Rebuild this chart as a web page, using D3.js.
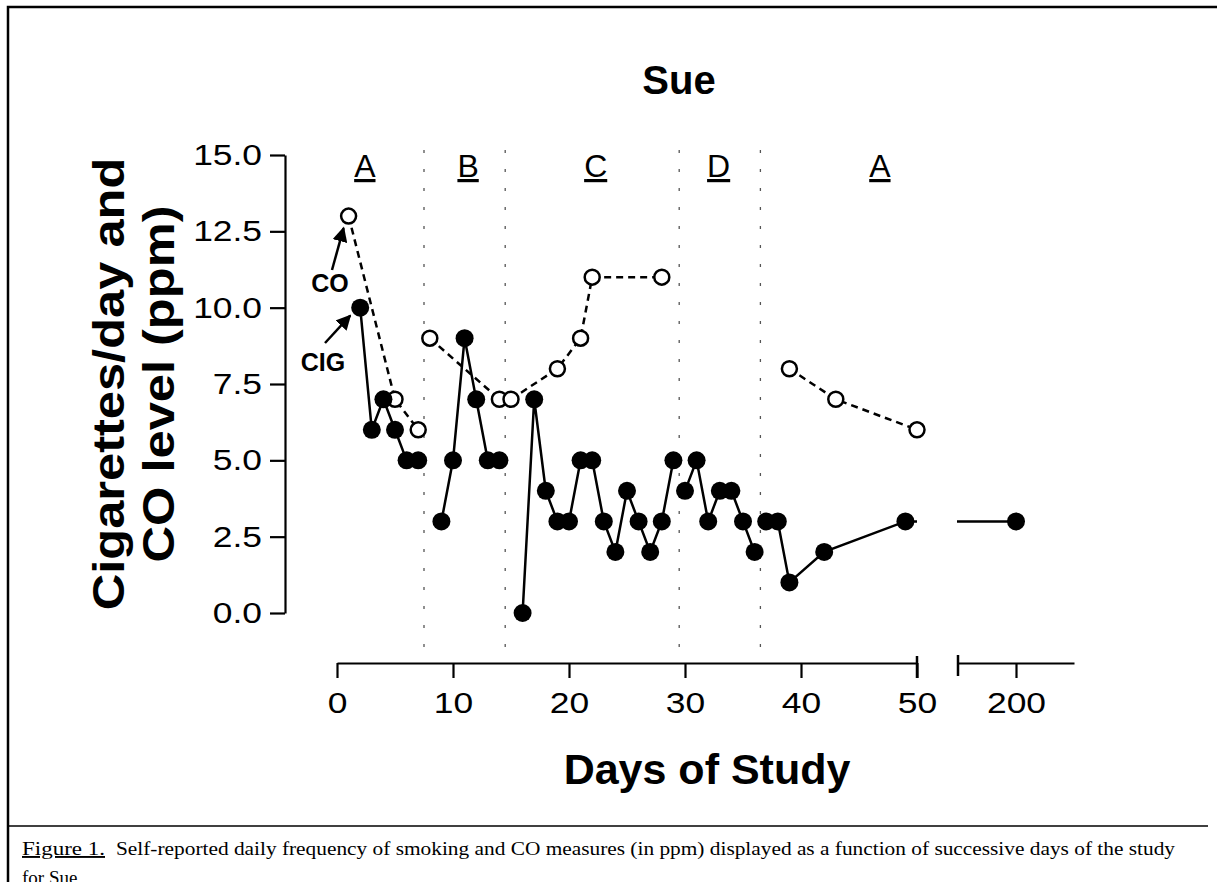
<!DOCTYPE html>
<html>
<head>
<meta charset="utf-8">
<script src="https://cdn.jsdelivr.net/npm/d3@7/dist/d3.min.js"></script>
<style>
  body { margin: 0; background: #fff; }
  svg { display: block; }
</style>
</head>
<body>
<svg id="chart" width="1217" height="882"></svg>
<script>
// cigarettes per day (filled circles)
var cigDays = [2, 3, 4, 5, 6, 7, 9, 10, 11, 12, 13, 14, 16, 17, 18, 19, 20, 21, 22, 23, 24, 25, 26, 27, 28, 29,
               30, 31, 32, 33, 34, 35, 36, 37, 38, 39, 42, 49, 200]
var cigValues = [10, 6, 7, 6, 5, 5, 3, 5, 9, 7, 5, 5, 0, 7, 4, 3, 3, 5, 5, 3, 2, 4, 3, 2, 3, 5,
                 4, 5, 3, 4, 4, 3, 2, 3, 3, 1, 2, 3, 3]
// CO level in ppm (open circles)
var coDays = [1, 5, 7, 8, 14, 15, 19, 21, 22, 28, 39, 43, 50]
var coValues = [13, 7, 6, 9, 7, 7, 8, 9, 11, 11, 8, 7, 6]

// phases
var phaseBreaks = [7.5, 14.5, 29.5, 36.5]
var phaseNames = ['A', 'B', 'C', 'D', 'A']
var phaseLabelDays = [2.4, 11.3, 22.3, 32.9, 46.8]

var yTicks = [0, 2.5, 5, 7.5, 10, 12.5, 15]
var xTicks = [0, 10, 20, 30, 40, 50]
var xTicks2 = [200]

var SANS = 'Arial, "Liberation Sans", sans-serif'
var SERIF = '"Times New Roman", "Liberation Serif", serif'
var STRETCH = 1.18   // the original lettering is a little wide

var svg = d3.select('#chart')
svg.append('rect').attr('width', 1217).attr('height', 882).attr('fill', '#fff')

// figure frame and caption rule
svg.append('path')
    .attr('d', 'M8,882V7H1217')
    .attr('fill', 'none')
    .attr('stroke', '#000')
    .attr('stroke-width', 2.5)
svg.append('line')
    .attr('x1', 8).attr('x2', 1208)
    .attr('y1', 826).attr('y2', 826)
    .attr('stroke', '#000')
    .attr('stroke-width', 1.5)

var x = d3.scaleLinear().domain([0, 50]).range([337, 917])
var x2 = d3.scaleLinear().domain([195, 205]).range([958, 1074])
var y = d3.scaleLinear().domain([0, 15]).range([613, 155])

function px(day) {
    return day <= 50 ? x(day) : x2(day)
}

// break in the x axis: hide line parts between the two axis pieces
var clip = svg.append('clipPath').attr('id', 'brk')
clip.append('rect').attr('x', 0).attr('y', 0).attr('width', x(50)).attr('height', 882)
clip.append('rect').attr('x', x2.range()[0] - 1).attr('y', 0).attr('width', 300).attr('height', 882)

// dotted phase lines
svg.selectAll('.phase')
    .data(phaseBreaks)
    .enter()
    .append('line')
    .attr('x1', d => x(d)).attr('x2', d => x(d))
    .attr('y1', 150).attr('y2', 656)
    .attr('stroke', '#555')
    .attr('stroke-width', 1.3)
    .attr('stroke-dasharray', '3,16')

svg.selectAll('.phaseLabel')
    .data(phaseNames)
    .enter()
    .append('text')
    .attr('x', (d, i) => x(phaseLabelDays[i]))
    .attr('y', 177)
    .attr('text-anchor', 'middle')
    .attr('font-family', SANS)
    .attr('font-size', 32)
    .attr('text-decoration', 'underline')
    .text(d => d)

// y axis
var yAxis = svg.append('g')
    .attr('transform', 'translate(285,0)')
    .call(d3.axisLeft(y).tickValues(yTicks).tickFormat(d3.format('.1f'))
        .tickSize(15).tickSizeOuter(0).tickPadding(8))
yAxis.selectAll('text')
    .attr('font-size', 30)
    .attr('font-family', SANS)
    .attr('x', -23 / STRETCH)
    .attr('transform', 'scale(' + STRETCH + ',1)')

// x axis, two pieces
var xAxis = svg.append('g')
    .attr('transform', 'translate(0,663)')
    .call(d3.axisBottom(x).tickValues(xTicks).tickSize(15).tickSizeOuter(0).tickPadding(14))
var xAxis2 = svg.append('g')
    .attr('transform', 'translate(0,663)')
    .call(d3.axisBottom(x2).tickValues(xTicks2).tickSize(15).tickSizeOuter(0).tickPadding(14))
svg.selectAll('.tick text').attr('font-family', SANS)
xAxis.selectAll('text').attr('font-size', 30).attr('transform', 'scale(' + STRETCH + ',1)')
xAxis2.selectAll('text').attr('font-size', 30).attr('transform', 'scale(' + STRETCH + ',1)')
svg.selectAll('.domain, .tick line').attr('stroke-width', 2.2)

// break bars
svg.append('line')
    .attr('x1', x(50)).attr('x2', x(50)).attr('y1', 656).attr('y2', 678)
    .attr('stroke', '#000').attr('stroke-width', 2.5)
svg.append('line')
    .attr('x1', x2.range()[0]).attr('x2', x2.range()[0]).attr('y1', 655).attr('y2', 676)
    .attr('stroke', '#000').attr('stroke-width', 2.5)

// group points into phases so lines do not cross phase lines
function phaseOf(day) {
    var p = 0
    phaseBreaks.forEach(b => { if (day > b) p++ })
    return p
}
function segments(days, values) {
    var groups = d3.groups(days.map((d, i) => ({ day: d, value: values[i] })), d => phaseOf(d.day))
    return groups.map(g => g[1])
}

var line = d3.line().x(d => px(d.day)).y(d => y(d.value))

var plot = svg.append('g').attr('clip-path', 'url(#brk)')

plot.selectAll('.coLine')
    .data(segments(coDays, coValues))
    .enter()
    .append('path')
    .attr('d', line)
    .attr('fill', 'none')
    .attr('stroke', '#000')
    .attr('stroke-width', 2.5)
    .attr('stroke-dasharray', '7,5')

plot.selectAll('.cigLine')
    .data(segments(cigDays, cigValues))
    .enter()
    .append('path')
    .attr('d', line)
    .attr('fill', 'none')
    .attr('stroke', '#000')
    .attr('stroke-width', 2.5)

svg.selectAll('.coDot')
    .data(coDays)
    .enter()
    .append('circle')
    .attr('cx', d => px(d))
    .attr('cy', (d, i) => y(coValues[i]))
    .attr('r', 7.5)
    .attr('fill', '#fff')
    .attr('stroke', '#000')
    .attr('stroke-width', 2.5)

svg.selectAll('.cigDot')
    .data(cigDays)
    .enter()
    .append('circle')
    .attr('cx', d => px(d))
    .attr('cy', (d, i) => y(cigValues[i]))
    .attr('r', 9)
    .attr('fill', '#000')

// CO / CIG callouts
svg.append('defs').append('marker')
    .attr('id', 'arrow')
    .attr('viewBox', '0 0 10 10')
    .attr('refX', 9).attr('refY', 5)
    .attr('markerWidth', 6).attr('markerHeight', 6)
    .attr('orient', 'auto')
    .append('path')
    .attr('d', 'M0,0L10,5L0,10Z')
    .attr('fill', '#000')

function callout(label, day, value, tx, ty, ax, ay, bx, by) {
    svg.append('text')
        .attr('x', tx).attr('y', ty)
        .attr('text-anchor', 'middle')
        .attr('font-family', SANS)
        .attr('font-size', 25)
        .attr('font-weight', 'bold')
        .text(label)
    svg.append('line')
        .attr('x1', ax).attr('y1', ay)
        .attr('x2', px(day) + bx).attr('y2', y(value) + by)
        .attr('stroke', '#000')
        .attr('stroke-width', 2.5)
        .attr('marker-end', 'url(#arrow)')
}
callout('CO', coDays[0], coValues[0], 330, 292, 332, 270, -5, 12)
callout('CIG', cigDays[0], cigValues[0], 323, 371, 325, 343, -10, 8)

// titles
svg.append('text')
    .attr('x', 679).attr('y', 94)
    .attr('text-anchor', 'middle')
    .attr('font-family', SANS)
    .attr('font-size', 40)
    .attr('font-weight', 'bold')
    .text('Sue')

svg.append('text')
    .attr('x', 707).attr('y', 784)
    .attr('text-anchor', 'middle')
    .attr('font-family', SANS)
    .attr('font-size', 43)
    .attr('font-weight', 'bold')
    .text('Days of Study')

var yTitle = svg.append('text')
    .attr('transform', 'translate(124,384) rotate(-90) scale(1.15,1)')
    .attr('text-anchor', 'middle')
    .attr('font-family', SANS)
    .attr('font-size', 44)
    .attr('font-weight', 'bold')
yTitle.append('tspan').attr('x', 0).attr('y', 0).text('Cigarettes/day and')
yTitle.append('tspan').attr('x', 0).attr('y', 50).text('CO level (ppm)')

// caption
svg.append('text')
    .attr('font-family', SERIF)
    .attr('font-size', 19)
    .attr('x', 22).attr('y', 855)
    .attr('text-decoration', 'underline')
    .attr('textLength', 83)
    .attr('lengthAdjust', 'spacingAndGlyphs')
    .text('Figure 1.')
svg.append('text')
    .attr('font-family', SERIF)
    .attr('font-size', 19)
    .attr('x', 116).attr('y', 855)
    .attr('textLength', 1059)
    .attr('lengthAdjust', 'spacingAndGlyphs')
    .text('Self-reported daily frequency of smoking and CO measures (in ppm) displayed as a function of successive days of the study')
svg.append('text')
    .attr('font-family', SERIF)
    .attr('font-size', 19)
    .attr('x', 22).attr('y', 884)
    .text('for Sue')
</script>
</body>
</html>
